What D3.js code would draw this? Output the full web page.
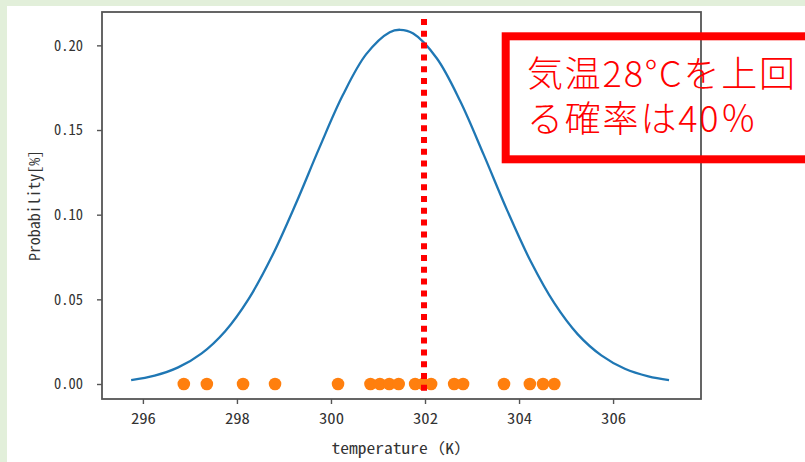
<!DOCTYPE html>
<html>
<head>
<meta charset="utf-8">
<script src="https://cdn.jsdelivr.net/npm/d3@7"></script>
<style>
  html, body { margin: 0; padding: 0; background: #e2efda; }
  svg { display: block; }
</style>
</head>
<body>
<svg id="chart" width="805" height="462"></svg>
<script>
// ---- data ----
const curveX = [295.75, 296.25, 296.75, 297.25, 297.75, 298.25, 298.75, 299.25, 299.75, 300.25,
                300.75, 301.25, 301.47, 301.75, 302.25, 302.75, 303.25, 303.75, 304.25, 304.75,
                305.25, 305.75, 306.25, 306.75, 307.19];
const curveY = [0.0023, 0.0049, 0.0098, 0.0181, 0.0312, 0.0503, 0.0757, 0.1063, 0.1393, 0.1705,
                0.1948, 0.2078, 0.2092, 0.2070, 0.1924, 0.1670, 0.1353, 0.1024, 0.0723, 0.0477,
                0.0293, 0.0169, 0.0090, 0.0045, 0.0023];
const sampleX = [296.87, 297.36, 298.13, 298.81, 300.15, 300.84, 301.04, 301.24, 301.44, 301.79,
                 301.96, 302.13, 302.62, 302.81, 303.68, 304.23, 304.51, 304.75];
const sampleY = sampleX.map(() => 0);
const thresholdX = 302;
const xTicks = [296, 298, 300, 302, 304, 306];
const yTicks = [0.00, 0.05, 0.10, 0.15, 0.20];
const xLabel = "temperature（K）";
const yLabel = "Probability[%]";
const noteLines = ["気温28°Cを上回", "る確率は40％"];

// ---- layout ----
const svg = d3.select("#chart");
svg.append("rect").attr("x", 7).attr("y", 6).attr("width", 798).attr("height", 456).attr("fill", "#ffffff");

const L = 102, R = 701, T = 12, B = 399;
const x = d3.scaleLinear().domain([295.13, 307.87]).range([L, R]);
const y = d3.scaleLinear().domain([-0.00886, 0.2197]).range([B, T]);

const tickFont = "'Noto Sans Mono CJK JP', 'DejaVu Sans Mono', monospace";

// curve
svg.append("path")
  .datum(curveX.map((d, i) => [d, curveY[i]]))
  .attr("fill", "none")
  .attr("stroke", "#1f77b4")
  .attr("stroke-width", 2.3)
  .attr("d", d3.line().x(d => x(d[0])).y(d => y(d[1])).curve(d3.curveCatmullRom));

// samples
svg.append("g").selectAll("circle")
  .data(sampleX.map((d, i) => [d, sampleY[i]]))
  .join("circle")
  .attr("cx", d => x(d[0]))
  .attr("cy", d => y(d[1]))
  .attr("r", 6.3)
  .attr("fill", "#ff7f0e");

// axes
const xAxis = svg.append("g").attr("transform", `translate(0,${B})`)
  .call(d3.axisBottom(x).tickValues(xTicks).tickFormat(d3.format("d")).tickSize(5).tickPadding(6));
const yAxis = svg.append("g").attr("transform", `translate(${L},0)`)
  .call(d3.axisLeft(y).tickValues(yTicks).tickFormat(d3.format(".2f")).tickSize(5).tickPadding(14));
[xAxis, yAxis].forEach(g => {
  g.select(".domain").remove();
  g.selectAll(".tick line").attr("stroke", "#555").attr("stroke-width", 1.4);
  g.selectAll(".tick text").attr("fill", "#333").style("font-family", tickFont).style("font-size", "15px");
});
xAxis.selectAll(".tick text").attr("textLength", 25).attr("lengthAdjust", "spacingAndGlyphs").attr("dy", "0.95em");
yAxis.selectAll(".tick text").attr("textLength", 29).attr("lengthAdjust", "spacingAndGlyphs");

// spines
svg.append("rect").attr("x", L).attr("y", T).attr("width", R - L).attr("height", B - T)
  .attr("fill", "none").attr("stroke", "#555").attr("stroke-width", 1.8);

// axis labels
svg.append("text").attr("x", (L + R) / 2).attr("y", 454).attr("text-anchor", "middle")
  .style("font-family", tickFont).style("font-size", "15px").attr("fill", "#333")
  .attr("textLength", 140).attr("lengthAdjust", "spacingAndGlyphs").text(xLabel);
svg.append("text").attr("transform", `translate(40,${(T + B) / 2}) rotate(-90)`).attr("text-anchor", "middle")
  .style("font-family", tickFont).style("font-size", "15px").attr("fill", "#333")
  .attr("textLength", 111).attr("lengthAdjust", "spacingAndGlyphs").text(yLabel);

// threshold line
svg.append("line")
  .attr("x1", x(thresholdX) - 1).attr("x2", x(thresholdX) - 1)
  .attr("y1", 19).attr("y2", 395)
  .attr("stroke", "#ff0000").attr("stroke-width", 6)
  .attr("stroke-dasharray", "6,5.8");

// annotation box
svg.append("rect").attr("x", 505.7).attr("y", 36.3).attr("width", 330).attr("height", 123)
  .attr("fill", "none").attr("stroke", "#ff0000").attr("stroke-width", 8);
const note = svg.append("g").attr("fill", "#ff0000")
  .style("font-family", "'Noto Sans CJK JP', sans-serif").style("font-size", "36px")
  .style("font-weight", 300).style("letter-spacing", "1.8px");
noteLines.forEach((t, i) => {
  note.append("text").attr("x", 527).attr("y", 87 + i * 45).text(t);
});
</script>
</body>
</html>
